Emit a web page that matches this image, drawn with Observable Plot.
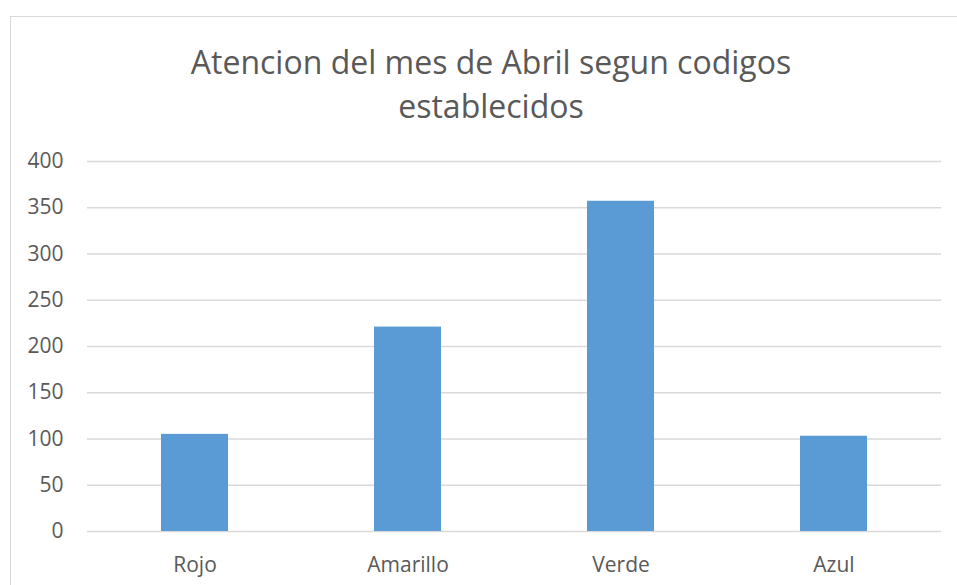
<!DOCTYPE html>
<html>
<head>
<meta charset="utf-8">
<script src="https://cdn.jsdelivr.net/npm/d3@7"></script>
<script src="https://cdn.jsdelivr.net/npm/@observablehq/plot@0.6"></script>
<style>
  html, body { margin: 0; padding: 0; background: #fff; overflow: hidden; }
  #frame { position: absolute; left: 10px; top: 16px; width: 1000px; height: 700px; border: 1px solid #d9d9d9; box-sizing: border-box; }
  #title { position: absolute; left: 0; top: 40px; width: 982px; text-align: center; font-family: "Open Sans", sans-serif; font-weight: 400; font-size: 32px; line-height: 44px; color: #595959; }
  #chart { position: absolute; left: 0; top: 140px; }
</style>
</head>
<body>
<div id="frame"></div>
<div id="title">Atencion del mes de Abril segun codigos<br>establecidos</div>
<div id="chart"></div>
<script>
const categories = ["Rojo", "Amarillo", "Verde", "Azul"];
const values = [105, 221, 357, 103];
const yTicks = [0, 50, 100, 150, 200, 250, 300, 350, 400];

const data = categories.map((c, i) => ({category: c, value: values[i]}));

const plot = Plot.plot({
  width: 957,
  height: 445,
  marginTop: 21,
  marginBottom: 54,
  marginLeft: 87,
  marginRight: 16,
  style: {fontFamily: "Open Sans, sans-serif", fontSize: "21px", color: "#595959", background: "transparent"},
  x: {domain: categories, paddingInner: 0.686, paddingOuter: 0.343, label: null, tickSize: 0, tickPadding: 26},
  y: {domain: [0, 400], ticks: yTicks, label: null, tickSize: 0, tickPadding: 24},
  marks: [
    Plot.ruleY(yTicks, {stroke: "#d9d9d9", strokeWidth: 1.3}),
    Plot.barY(data, {x: "category", y: "value", fill: "#5b9bd5"}),
    Plot.axisY({ticks: yTicks, tickSize: 0, tickPadding: 24, label: null, fill: "#595959"}),
    Plot.axisX({tickSize: 0, tickPadding: 26, label: null, fill: "#595959"})
  ]
});
document.getElementById("chart").appendChild(plot);
</script>
</body>
</html>
